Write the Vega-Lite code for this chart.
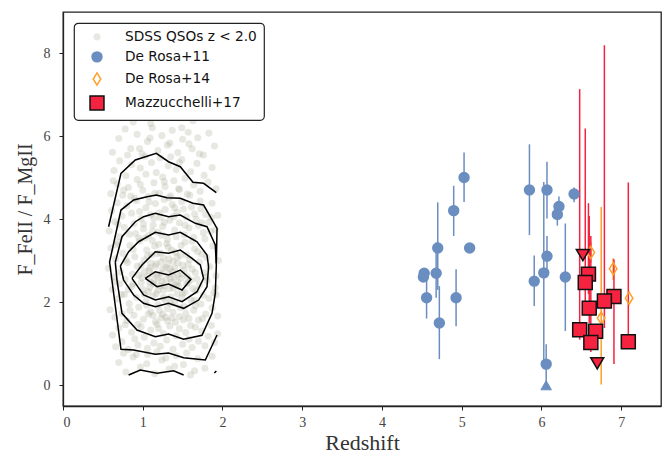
{
  "$schema": "https://vega.github.io/schema/vega-lite/v6.json",
  "width": 598,
  "height": 394,
  "autosize": {"type": "none"},
  "padding": {"left": 63, "top": 12, "right": 6, "bottom": 47},
  "background": "white",
  "config": {
    "view": {"stroke": "#222222", "strokeWidth": 1.3},
    "axis": {
      "grid": false,
      "labelFont": "Liberation Serif",
      "labelFontSize": 14,
      "labelColor": "#444444",
      "titleFont": "Liberation Serif",
      "titleFontSize": 22,
      "titleFontWeight": "normal",
      "titleColor": "#333333",
      "tickColor": "#222222",
      "tickSize": 4,
      "domainColor": "#222222",
      "domainWidth": 1.3
    },
    "legend": {
      "orient": "top-left",
      "offset": 11,
      "padding": 7,
      "strokeColor": "#222222",
      "strokeWidth": 1.2,
      "cornerRadius": 4,
      "fillColor": "white",
      "labelFont": "DejaVu Sans",
      "labelFontSize": 13.7,
      "labelColor": "#111111",
      "rowPadding": 4,
      "labelOffset": 20,
      "symbolOffset": 8,
      "symbolOpacity": 1,
      "symbolStrokeWidth": 1.5
    }
  },
  "datasets": {
    "sdss": [
      {"z":0.72,"r":6.45},{"z":0.95,"r":6.62},{"z":1.10,"r":6.31},{"z":1.28,"r":6.85},{"z":1.41,"r":6.50},{"z":1.55,"r":6.72},{"z":1.63,"r":6.38},{"z":1.80,"r":6.55},{"z":1.18,"r":6.98},{"z":0.88,"r":6.35},{"z":1.49,"r":6.21},{"z":1.72,"r":6.90},
      {"z":0.62,"r":5.62},{"z":0.70,"r":5.95},{"z":0.78,"r":6.18},{"z":0.85,"r":5.71},{"z":0.93,"r":6.05},{"z":0.99,"r":5.58},{"z":1.06,"r":5.88},{"z":1.12,"r":6.21},{"z":1.19,"r":5.66},{"z":1.24,"r":6.02},{"z":1.31,"r":5.79},{"z":1.37,"r":6.15},{"z":1.44,"r":5.61},{"z":1.50,"r":5.93},{"z":1.57,"r":6.10},{"z":1.62,"r":5.70},{"z":1.69,"r":5.97},{"z":1.76,"r":5.55},{"z":1.83,"r":6.08},{"z":1.90,"r":5.77},{"z":1.03,"r":5.52},{"z":1.35,"r":5.51},
      {"z":0.60,"r":4.62},{"z":0.64,"r":5.18},{"z":0.68,"r":4.85},{"z":0.71,"r":5.41},{"z":0.75,"r":4.58},{"z":0.79,"r":5.05},{"z":0.82,"r":4.77},{"z":0.86,"r":5.32},{"z":0.90,"r":4.51},{"z":0.93,"r":4.96},{"z":0.97,"r":5.24},{"z":1.00,"r":4.70},{"z":1.04,"r":5.09},{"z":1.07,"r":4.55},{"z":1.11,"r":5.37},{"z":1.14,"r":4.88},{"z":1.17,"r":5.13},{"z":1.21,"r":4.63},{"z":1.25,"r":5.02},{"z":1.28,"r":4.79},{"z":1.32,"r":5.29},{"z":1.35,"r":4.57},{"z":1.39,"r":4.93},{"z":1.42,"r":5.20},{"z":1.46,"r":4.72},{"z":1.49,"r":5.44},{"z":1.53,"r":4.99},{"z":1.56,"r":4.61},{"z":1.60,"r":5.15},{"z":1.64,"r":4.83},{"z":1.68,"r":5.35},{"z":1.72,"r":4.68},{"z":1.77,"r":5.06},{"z":1.82,"r":4.90},{"z":1.87,"r":5.25},{"z":1.92,"r":4.74},
      {"z":0.58,"r":3.72},{"z":0.61,"r":4.21},{"z":0.65,"r":3.95},{"z":0.68,"r":4.40},{"z":0.71,"r":3.58},{"z":0.74,"r":4.08},{"z":0.77,"r":3.81},{"z":0.80,"r":4.33},{"z":0.83,"r":3.64},{"z":0.86,"r":4.15},{"z":0.89,"r":3.90},{"z":0.92,"r":4.45},{"z":0.95,"r":3.55},{"z":0.98,"r":4.02},{"z":1.01,"r":3.77},{"z":1.04,"r":4.28},{"z":1.07,"r":3.61},{"z":1.10,"r":4.11},{"z":1.13,"r":3.86},{"z":1.16,"r":4.38},{"z":1.19,"r":3.69},{"z":1.22,"r":4.05},{"z":1.25,"r":3.83},{"z":1.28,"r":4.24},{"z":1.31,"r":3.52},{"z":1.34,"r":3.98},{"z":1.37,"r":4.36},{"z":1.40,"r":3.74},{"z":1.43,"r":4.17},{"z":1.46,"r":3.92},{"z":1.49,"r":4.43},{"z":1.52,"r":3.63},{"z":1.55,"r":4.06},{"z":1.58,"r":3.79},{"z":1.61,"r":4.30},{"z":1.64,"r":3.57},{"z":1.67,"r":4.00},{"z":1.70,"r":3.85},{"z":1.73,"r":4.25},{"z":1.76,"r":3.68},{"z":1.79,"r":4.12},{"z":1.83,"r":3.93},{"z":1.87,"r":4.39},{"z":1.91,"r":3.75},{"z":1.94,"r":4.10},{"z":1.12,"r":3.71},{"z":1.27,"r":4.48},{"z":0.96,"r":4.19},
      {"z":0.57,"r":2.82},{"z":0.60,"r":3.31},{"z":0.63,"r":2.61},{"z":0.66,"r":3.05},{"z":0.69,"r":3.44},{"z":0.72,"r":2.73},{"z":0.75,"r":3.18},{"z":0.78,"r":2.55},{"z":0.81,"r":2.96},{"z":0.84,"r":3.37},{"z":0.87,"r":2.68},{"z":0.90,"r":3.10},{"z":0.93,"r":2.87},{"z":0.96,"r":3.48},{"z":0.99,"r":2.59},{"z":1.02,"r":3.02},{"z":1.05,"r":3.26},{"z":1.08,"r":2.77},{"z":1.11,"r":3.14},{"z":1.14,"r":2.52},{"z":1.17,"r":2.93},{"z":1.20,"r":3.40},{"z":1.23,"r":2.70},{"z":1.26,"r":3.07},{"z":1.29,"r":2.84},{"z":1.32,"r":3.33},{"z":1.35,"r":2.57},{"z":1.38,"r":2.99},{"z":1.41,"r":3.21},{"z":1.44,"r":2.66},{"z":1.47,"r":3.12},{"z":1.50,"r":2.89},{"z":1.53,"r":3.45},{"z":1.56,"r":2.62},{"z":1.59,"r":3.03},{"z":1.62,"r":2.80},{"z":1.65,"r":3.29},{"z":1.68,"r":2.56},{"z":1.71,"r":2.97},{"z":1.74,"r":3.16},{"z":1.77,"r":2.71},{"z":1.80,"r":3.08},{"z":1.84,"r":2.86},{"z":1.88,"r":3.36},{"z":1.92,"r":2.64},{"z":1.95,"r":3.01},{"z":1.06,"r":2.63},{"z":1.22,"r":3.19},{"z":1.37,"r":2.74},{"z":1.15,"r":3.36},{"z":1.29,"r":2.55},{"z":1.44,"r":2.95},{"z":0.98,"r":2.90},{"z":1.60,"r":2.54},{"z":1.10,"r":2.95},{"z":1.33,"r":3.05},{"z":1.48,"r":2.58},{"z":1.24,"r":2.51},{"z":1.18,"r":2.66},{"z":1.40,"r":2.83},
      {"z":0.59,"r":1.82},{"z":0.62,"r":2.31},{"z":0.65,"r":1.64},{"z":0.68,"r":2.08},{"z":0.71,"r":2.44},{"z":0.74,"r":1.73},{"z":0.77,"r":2.19},{"z":0.80,"r":1.56},{"z":0.83,"r":1.97},{"z":0.86,"r":2.38},{"z":0.89,"r":1.69},{"z":0.92,"r":2.12},{"z":0.95,"r":1.88},{"z":0.98,"r":2.47},{"z":1.01,"r":1.59},{"z":1.04,"r":2.02},{"z":1.07,"r":2.26},{"z":1.10,"r":1.77},{"z":1.13,"r":2.15},{"z":1.16,"r":1.53},{"z":1.19,"r":1.94},{"z":1.22,"r":2.40},{"z":1.25,"r":1.71},{"z":1.28,"r":2.06},{"z":1.31,"r":1.85},{"z":1.34,"r":2.33},{"z":1.37,"r":1.62},{"z":1.40,"r":1.99},{"z":1.43,"r":2.21},{"z":1.46,"r":1.66},{"z":1.49,"r":2.11},{"z":1.52,"r":1.90},{"z":1.55,"r":2.45},{"z":1.58,"r":1.61},{"z":1.61,"r":2.04},{"z":1.64,"r":1.81},{"z":1.67,"r":2.28},{"z":1.70,"r":1.57},{"z":1.73,"r":1.96},{"z":1.76,"r":2.17},{"z":1.79,"r":1.72},{"z":1.83,"r":2.09},{"z":1.87,"r":1.87},{"z":1.91,"r":2.35},{"z":1.94,"r":1.67},{"z":1.14,"r":2.44},{"z":1.26,"r":2.29},{"z":1.35,"r":2.13},{"z":1.21,"r":1.80},{"z":1.09,"r":2.36},{"z":1.42,"r":2.42},{"z":1.31,"r":1.55},{"z":1.53,"r":2.24},{"z":1.02,"r":2.19},
      {"z":0.62,"r":1.21},{"z":0.66,"r":0.93},{"z":0.70,"r":1.38},{"z":0.74,"r":1.05},{"z":0.78,"r":1.46},{"z":0.82,"r":0.86},{"z":0.86,"r":1.28},{"z":0.90,"r":1.12},{"z":0.94,"r":0.97},{"z":0.98,"r":1.41},{"z":1.02,"r":1.16},{"z":1.06,"r":0.89},{"z":1.10,"r":1.33},{"z":1.14,"r":1.02},{"z":1.18,"r":1.47},{"z":1.22,"r":0.94},{"z":1.26,"r":1.25},{"z":1.30,"r":1.09},{"z":1.34,"r":1.43},{"z":1.38,"r":0.87},{"z":1.42,"r":1.19},{"z":1.46,"r":1.36},{"z":1.50,"r":0.99},{"z":1.54,"r":1.27},{"z":1.58,"r":1.11},{"z":1.62,"r":0.91},{"z":1.66,"r":1.40},{"z":1.70,"r":1.06},{"z":1.74,"r":1.31},{"z":1.78,"r":0.95},{"z":1.82,"r":1.18},{"z":1.86,"r":1.44},{"z":1.90,"r":1.03},{"z":1.94,"r":1.24},
      {"z":0.70,"r":0.55},{"z":0.79,"r":0.32},{"z":0.88,"r":0.68},{"z":0.97,"r":0.44},{"z":1.06,"r":0.74},{"z":1.15,"r":0.28},{"z":1.24,"r":0.61},{"z":1.33,"r":0.39},{"z":1.42,"r":0.71},{"z":1.51,"r":0.50},{"z":1.60,"r":0.25},{"z":1.69,"r":0.64},{"z":1.78,"r":0.41},{"z":1.87,"r":0.70},
      {"z":0.63,"r":4.93},{"z":0.67,"r":3.38},{"z":0.73,"r":2.19},{"z":0.76,"r":4.71},{"z":0.79,"r":3.02},{"z":0.84,"r":1.81},{"z":0.85,"r":4.56},{"z":0.88,"r":2.44},{"z":0.91,"r":3.66},{"z":0.94,"r":1.47},{"z":0.97,"r":4.84},{"z":1.00,"r":2.31},{"z":1.03,"r":3.55},{"z":1.05,"r":1.93},{"z":1.08,"r":4.42},{"z":1.09,"r":2.83},{"z":1.12,"r":3.49},{"z":1.13,"r":1.68},{"z":1.15,"r":4.63},{"z":1.17,"r":2.21},{"z":1.18,"r":3.17},{"z":1.20,"r":1.37},{"z":1.21,"r":4.16},{"z":1.23,"r":2.97},{"z":1.24,"r":3.62},{"z":1.26,"r":2.12},{"z":1.27,"r":4.91},{"z":1.29,"r":1.64},{"z":1.30,"r":3.41},{"z":1.32,"r":2.68},{"z":1.33,"r":4.52},{"z":1.35,"r":1.98},{"z":1.36,"r":3.26},{"z":1.38,"r":2.35},{"z":1.39,"r":4.07},{"z":1.41,"r":1.52},{"z":1.42,"r":3.58},{"z":1.44,"r":2.49},{"z":1.45,"r":4.74},{"z":1.47,"r":1.87},{"z":1.48,"r":3.37},{"z":1.50,"r":2.22},{"z":1.51,"r":4.25},{"z":1.54,"r":1.73},{"z":1.55,"r":3.14},{"z":1.57,"r":2.91},{"z":1.59,"r":4.58},{"z":1.60,"r":1.44},{"z":1.62,"r":3.47},{"z":1.63,"r":2.33},{"z":1.65,"r":4.13},{"z":1.66,"r":1.92},{"z":1.69,"r":3.22},{"z":1.71,"r":2.41},{"z":1.72,"r":4.44},{"z":1.75,"r":1.61},{"z":1.78,"r":3.53},{"z":1.81,"r":2.52},{"z":1.85,"r":3.71},{"z":1.89,"r":2.23},
      {"z":0.96,"r":5.71},{"z":1.09,"r":5.96},{"z":1.22,"r":5.48},{"z":1.34,"r":5.84},{"z":1.46,"r":5.37},{"z":1.58,"r":5.82},{"z":0.81,"r":5.55},{"z":1.71,"r":5.58},
      {"z":0.92,"r":0.74},{"z":1.05,"r":0.52},{"z":1.18,"r":0.81},{"z":1.29,"r":0.66},{"z":1.40,"r":0.46},{"z":1.55,"r":0.78},{"z":1.65,"r":0.35},{"z":0.76,"r":0.77},
      {"z":1.02,"r":2.74},{"z":1.16,"r":2.87},{"z":1.27,"r":2.40},{"z":1.39,"r":2.61},{"z":1.52,"r":2.77},{"z":1.09,"r":2.49},{"z":1.31,"r":2.92},{"z":1.45,"r":2.39},{"z":1.20,"r":2.59},{"z":1.36,"r":2.48},{"z":1.13,"r":2.68},{"z":1.25,"r":2.81},{"z":1.49,"r":2.69},{"z":1.57,"r":2.47},{"z":1.06,"r":3.12},{"z":1.43,"r":3.09},{"z":1.19,"r":2.29},{"z":1.34,"r":2.81},{"z":0.95,"r":2.65},{"z":1.66,"r":2.72},
      {"z":1.01,"r":3.89},{"z":1.14,"r":4.02},{"z":1.27,"r":3.93},{"z":1.40,"r":4.28},{"z":1.53,"r":3.86},{"z":1.07,"r":1.72},{"z":1.23,"r":1.62},{"z":1.38,"r":1.76},{"z":1.51,"r":1.58},{"z":1.65,"r":2.05},
      {"z":0.88,"r":3.27},{"z":0.82,"r":2.31},{"z":1.74,"r":3.92},{"z":1.79,"r":2.61},{"z":0.69,"r":3.88},{"z":0.66,"r":2.49},{"z":1.86,"r":4.05},{"z":1.92,"r":2.18}
    ],
    "contours": [
      {"c":"1a","i":1,"z":0.572,"r":3.823},{"c":"1a","i":2,"z":0.727,"r":5.110},{"c":"1a","i":3,"z":0.907,"r":5.431},{"c":"1a","i":4,"z":1.170,"r":5.593},{"c":"1a","i":5,"z":1.324,"r":5.390},{"c":"1a","i":6,"z":1.471,"r":5.270},{"c":"1a","i":7,"z":1.630,"r":4.893},{"c":"1a","i":8,"z":1.763,"r":4.869},{"c":"1a","i":9,"z":1.923,"r":4.643},
      {"c":"1b","i":1,"z":0.823,"r":0.247},{"c":"1b","i":2,"z":0.970,"r":0.367},{"c":"1b","i":3,"z":1.179,"r":0.288},{"c":"1b","i":4,"z":1.387,"r":0.350},{"c":"1b","i":5,"z":1.513,"r":0.247},
      {"c":"1c","i":1,"z":1.898,"r":0.295},{"c":"1c","i":2,"z":1.923,"r":0.343},
      {"c":"2","i":1,"z":1.923,"r":2.940},{"c":"2","i":2,"z":1.932,"r":3.784},{"c":"2","i":3,"z":1.763,"r":4.346},{"c":"2","i":4,"z":1.630,"r":4.387},{"c":"2","i":5,"z":1.471,"r":4.508},{"c":"2","i":6,"z":1.304,"r":4.522},{"c":"2","i":7,"z":1.170,"r":4.587},{"c":"2","i":8,"z":1.054,"r":4.546},{"c":"2","i":9,"z":0.886,"r":4.467},{"c":"2","i":10,"z":0.727,"r":4.225},{"c":"2","i":11,"z":0.584,"r":2.972},{"c":"2","i":12,"z":0.727,"r":0.866},{"c":"2","i":13,"z":0.886,"r":0.850},{"c":"2","i":14,"z":1.158,"r":0.746},{"c":"2","i":15,"z":1.324,"r":0.777},{"c":"2","i":16,"z":1.513,"r":0.664},{"c":"2","i":17,"z":1.785,"r":0.608},{"c":"2","i":18,"z":1.932,"r":1.211},
      {"c":"3","i":1,"z":0.656,"r":2.970},{"c":"3","i":2,"z":0.740,"r":3.582},{"c":"3","i":3,"z":0.907,"r":3.943},{"c":"3","i":4,"z":1.011,"r":4.064},{"c":"3","i":5,"z":1.158,"r":4.146},{"c":"3","i":6,"z":1.324,"r":4.064},{"c":"3","i":7,"z":1.471,"r":4.105},{"c":"3","i":8,"z":1.659,"r":3.905},{"c":"3","i":9,"z":1.806,"r":3.823},{"c":"3","i":10,"z":1.910,"r":3.382},{"c":"3","i":11,"z":1.923,"r":2.900},{"c":"3","i":12,"z":1.910,"r":2.217},{"c":"3","i":13,"z":1.869,"r":1.735},{"c":"3","i":14,"z":1.743,"r":1.206},{"c":"3","i":15,"z":1.513,"r":1.108},{"c":"3","i":16,"z":1.324,"r":1.235},{"c":"3","i":17,"z":1.158,"r":1.170},{"c":"3","i":18,"z":0.928,"r":1.332},{"c":"3","i":19,"z":0.740,"r":1.735},{"c":"3","i":20,"z":0.677,"r":2.537},{"c":"3","i":21,"z":0.656,"r":2.970},
      {"c":"4","i":1,"z":0.719,"r":2.875},{"c":"4","i":2,"z":0.823,"r":3.220},{"c":"4","i":3,"z":0.948,"r":3.461},{"c":"4","i":4,"z":1.158,"r":3.688},{"c":"4","i":5,"z":1.324,"r":3.623},{"c":"4","i":6,"z":1.471,"r":3.688},{"c":"4","i":7,"z":1.681,"r":3.461},{"c":"4","i":8,"z":1.806,"r":3.140},{"c":"4","i":9,"z":1.826,"r":2.858},{"c":"4","i":10,"z":1.806,"r":2.376},{"c":"4","i":11,"z":1.701,"r":2.055},{"c":"4","i":12,"z":1.513,"r":1.855},{"c":"4","i":13,"z":1.324,"r":1.976},{"c":"4","i":14,"z":1.158,"r":1.894},{"c":"4","i":15,"z":1.011,"r":1.976},{"c":"4","i":16,"z":0.886,"r":2.176},{"c":"4","i":17,"z":0.760,"r":2.537},{"c":"4","i":18,"z":0.719,"r":2.875},
      {"c":"5","i":1,"z":0.865,"r":2.578},{"c":"5","i":2,"z":0.991,"r":2.899},{"c":"5","i":3,"z":1.158,"r":3.220},{"c":"5","i":4,"z":1.324,"r":3.181},{"c":"5","i":5,"z":1.471,"r":3.261},{"c":"5","i":6,"z":1.618,"r":3.061},{"c":"5","i":7,"z":1.722,"r":2.899},{"c":"5","i":8,"z":1.763,"r":2.578},{"c":"5","i":9,"z":1.681,"r":2.255},{"c":"5","i":10,"z":1.493,"r":2.014},{"c":"5","i":11,"z":1.324,"r":2.135},{"c":"5","i":12,"z":1.158,"r":2.055},{"c":"5","i":13,"z":1.011,"r":2.176},{"c":"5","i":14,"z":0.865,"r":2.578},
      {"c":"6","i":1,"z":1.032,"r":2.578},{"c":"6","i":2,"z":1.158,"r":2.738},{"c":"6","i":3,"z":1.324,"r":2.658},{"c":"6","i":4,"z":1.471,"r":2.779},{"c":"6","i":5,"z":1.605,"r":2.554},{"c":"6","i":6,"z":1.493,"r":2.296},{"c":"6","i":7,"z":1.324,"r":2.441},{"c":"6","i":8,"z":1.179,"r":2.376},{"c":"6","i":9,"z":1.032,"r":2.578}
    ],
    "obs": [
      {"series":"De Rosa+11","z":5.03,"r":5.01,"lo":4.42,"hi":5.61},
      {"series":"De Rosa+11","z":4.90,"r":4.21,"lo":3.60,"hi":4.81},
      {"series":"De Rosa+11","z":4.70,"r":3.31,"lo":2.30,"hi":4.41},
      {"series":"De Rosa+11","z":5.10,"r":3.31},
      {"series":"De Rosa+11","z":4.53,"r":2.70},
      {"series":"De Rosa+11","z":4.52,"r":2.61},
      {"series":"De Rosa+11","z":4.68,"r":2.70,"lo":2.11,"hi":3.44},
      {"series":"De Rosa+11","z":4.56,"r":2.11,"lo":1.61,"hi":2.72},
      {"series":"De Rosa+11","z":4.93,"r":2.11,"lo":1.42,"hi":2.80},
      {"series":"De Rosa+11","z":4.72,"r":1.50,"lo":0.63,"hi":2.39},
      {"series":"De Rosa+11","z":5.85,"r":4.71,"lo":3.62,"hi":5.81},
      {"series":"De Rosa+11","z":6.07,"r":4.71,"lo":4.02,"hi":5.39},
      {"series":"De Rosa+11","z":6.22,"r":4.31,"lo":4.10,"hi":4.55},
      {"series":"De Rosa+11","z":6.20,"r":4.12,"lo":3.85,"hi":4.40},
      {"series":"De Rosa+11","z":6.41,"r":4.61,"lo":4.41,"hi":4.77},
      {"series":"De Rosa+11","z":6.07,"r":3.11,"lo":2.72,"hi":3.60},
      {"series":"De Rosa+11","z":6.03,"r":2.71,"lo":0.55,"hi":4.90},
      {"series":"De Rosa+11","z":5.91,"r":2.51,"lo":1.91,"hi":3.13},
      {"series":"De Rosa+11","z":6.30,"r":2.61,"lo":1.31,"hi":3.90},
      {"series":"De Rosa+11","z":6.06,"r":0.51,"lo":0.0,"hi":0.99},
      {"series":"De Rosa+14","z":6.62,"r":3.20,"lo":2.95,"hi":3.45},
      {"series":"De Rosa+14","z":6.90,"r":2.81,"lo":2.54,"hi":3.06},
      {"series":"De Rosa+14","z":7.10,"r":2.10},
      {"series":"De Rosa+14","z":6.75,"r":1.62,"lo":0.02,"hi":4.30},
      {"series":"Mazzucchelli+17","z":6.59,"r":2.68,"lo":2.20,"hi":4.39},
      {"series":"Mazzucchelli+17","z":6.55,"r":2.48,"lo":2.00,"hi":6.19},
      {"series":"Mazzucchelli+17","z":6.91,"r":2.14,"lo":0.51,"hi":3.04},
      {"series":"Mazzucchelli+17","z":6.79,"r":2.03,"lo":1.38,"hi":8.20},
      {"series":"Mazzucchelli+17","z":6.60,"r":1.86,"lo":1.50,"hi":4.08},
      {"series":"Mazzucchelli+17","z":6.48,"r":1.34,"lo":1.10,"hi":7.14},
      {"series":"Mazzucchelli+17","z":6.68,"r":1.30},
      {"series":"Mazzucchelli+17","z":6.62,"r":1.03,"lo":0.80,"hi":3.60},
      {"series":"Mazzucchelli+17","z":7.09,"r":1.05,"lo":1.05,"hi":4.89}
    ],
    "limits": [
      {"series":"De Rosa+11","z":6.06,"r":0.0},
      {"series":"Mazzucchelli+17","z":6.52,"r":3.14},
      {"series":"Mazzucchelli+17","z":6.70,"r":0.53}
    ]
  },
  "encoding": {
    "x": {"field": "z", "type": "quantitative", "scale": {"domain": [0, 7.5], "nice": false, "zero": false},
          "axis": {"title": "Redshift", "values": [0,1,2,3,4,5,6,7], "labelPadding": 5, "titlePadding": 3}},
    "y": {"field": "r", "type": "quantitative", "scale": {"domain": [-0.5, 9], "nice": false, "zero": false},
          "axis": {"title": "F_FeII / F_MgII", "values": [0,2,4,6,8], "labelPadding": 9, "titlePadding": 8, "titleFontSize": 20}}
  },
  "layer": [
    {
      "data": {"name": "sdss"},
      "transform": [{"calculate": "'SDSS QSOs z < 2.0'", "as": "series"}],
      "mark": {"type": "point", "filled": true, "strokeWidth": 1.5, "opacity": 1},
      "encoding": {
        "shape": {"field": "series", "type": "nominal", "scale": {"domain": ["SDSS QSOs z < 2.0","De Rosa+11","De Rosa+14","Mazzucchelli+17"], "range": ["circle","circle","M0,-1L0.62,0L0,1L-0.62,0Z","square"]}, "legend": {"title": null}},
        "fill": {"field": "series", "type": "nominal", "scale": {"domain": ["SDSS QSOs z < 2.0","De Rosa+11","De Rosa+14","Mazzucchelli+17"], "range": ["rgba(160,160,140,0.24)","#6a8ec0","transparent","#f5233f"]}, "legend": {"title": null}},
        "stroke": {"field": "series", "type": "nominal", "scale": {"domain": ["SDSS QSOs z < 2.0","De Rosa+11","De Rosa+14","Mazzucchelli+17"], "range": ["transparent","#6a8ec0","#ff9f28","#111111"]}, "legend": {"title": null}},
        "size": {"field": "series", "type": "nominal", "scale": {"domain": ["SDSS QSOs z < 2.0","De Rosa+11","De Rosa+14","Mazzucchelli+17"], "range": [50, 195]}, "legend": {"title": null}}
      }
    },
    {
      "data": {"name": "contours"},
      "mark": {"type": "line", "color": "#000000", "strokeWidth": 1.5},
      "encoding": {
        "detail": {"field": "c", "type": "nominal"},
        "order": {"field": "i", "type": "quantitative"}
      }
    },
    {
      "data": {"name": "obs"},
      "transform": [{"filter": "datum.lo != null"}],
      "mark": {"type": "rule", "strokeWidth": 1.5},
      "encoding": {
        "y": {"field": "lo", "type": "quantitative"},
        "y2": {"field": "hi"},
        "color": {"field": "series", "type": "nominal", "scale": {"domain": ["De Rosa+11","De Rosa+14","Mazzucchelli+17"], "range": ["#6a8ec0","#ff9f28","#f5233f"]}, "legend": null}
      }
    },
    {
      "data": {"name": "obs"},
      "mark": {"type": "point", "filled": true, "strokeWidth": 1.5, "opacity": 1},
      "encoding": {
        "shape": {"field": "series", "type": "nominal", "legend": {"title": null}},
        "fill": {"field": "series", "type": "nominal", "legend": {"title": null}},
        "stroke": {"field": "series", "type": "nominal", "legend": {"title": null}},
        "size": {"field": "series", "type": "nominal", "legend": {"title": null}}
      }
    },
    {
      "data": {"name": "limits"},
      "transform": [{"filter": "datum.series == 'De Rosa+11'"}],
      "mark": {"type": "point", "shape": "triangle-up", "filled": true, "fill": "#6a8ec0", "stroke": "#6a8ec0", "strokeWidth": 1, "size": 110, "opacity": 1},
      "encoding": {}
    },
    {
      "data": {"name": "limits"},
      "transform": [{"filter": "datum.series == 'Mazzucchelli+17'"}],
      "mark": {"type": "point", "shape": "triangle-down", "filled": true, "fill": "#f5233f", "stroke": "#111111", "strokeWidth": 1.5, "size": 170, "opacity": 1},
      "encoding": {}
    }
  ]
}
